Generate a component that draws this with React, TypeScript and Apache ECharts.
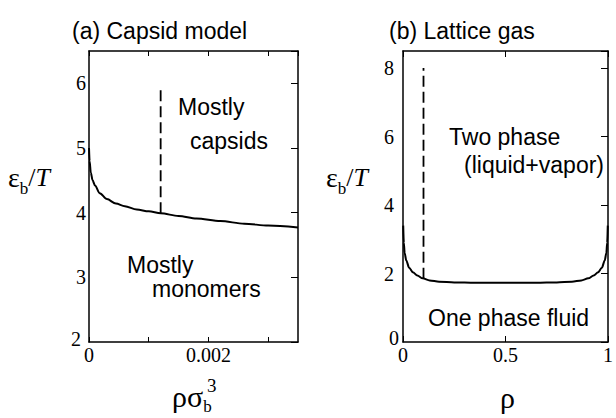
import React, { useEffect, useRef } from 'react';
import * as echarts from 'echarts';

// Panel (a) capsid model: boundary curve
const capsidRho = [0, 0.00001, 0.00003, 0.00006, 0.0001, 0.00018, 0.0003, 0.00045, 0.0006, 0.0008, 0.001, 0.0012, 0.0015, 0.0018, 0.0022, 0.0026, 0.003, 0.0035];
const capsidEps = [5.0, 4.8, 4.62, 4.5, 4.42, 4.3, 4.21, 4.14, 4.1, 4.05, 4.02, 3.99, 3.95, 3.91, 3.87, 3.83, 3.8, 3.77];
const capsidDashRho = [0.0012, 0.0012];
const capsidDashEps = [3.99, 5.95];

// Panel (b) lattice gas: coexistence curve
const latticeRho = [0.001, 0.004, 0.008, 0.016, 0.03, 0.048, 0.07, 0.096, 0.13, 0.176, 0.25, 0.35, 0.5, 0.65, 0.75, 0.824, 0.87, 0.904, 0.93, 0.952, 0.97, 0.984, 0.992, 0.996, 0.999];
const latticeEps = [3.4, 2.9, 2.6, 2.38, 2.17, 2.04, 1.94, 1.86, 1.8, 1.76, 1.74, 1.73, 1.73, 1.73, 1.74, 1.76, 1.8, 1.86, 1.94, 2.04, 2.17, 2.38, 2.6, 2.9, 3.4];
const latticeDashRho = [0.1, 0.1];
const latticeDashEps = [1.85, 8.0];

// Tick labels
const capsidXTickLabels = [0, 0.002];
const capsidYTickLabels = [2, 3, 4, 5, 6];
const latticeXTickLabels = [0, 0.5, 1];
const latticeYTickLabels = [0, 2, 4, 6, 8];

const zip = (xs: number[], ys: number[]) => xs.map((x, i) => [x, ys[i]]);
const has = (list: number[], v: number) => list.some((t) => Math.abs(t - v) < 1e-9);

const SERIF = 'Liberation Serif';
const SANS = 'Liberation Sans';
const BLACK = '#000';

export default function App() {
  const ref = useRef<HTMLDivElement>(null);
  useEffect(() => {
    if (!ref.current) return;
    const chart = echarts.init(ref.current, undefined, { renderer: 'svg' });
    const axisLine = { show: true, onZero: false, lineStyle: { color: BLACK, width: 1.5 } };
    const labelStyle = { color: BLACK, fontFamily: SERIF, fontSize: 20 };
    const grids = [
      { left: 89, top: 51, width: 209, height: 291 },
      { left: 403, top: 51, width: 208, height: 291 },
    ];
    const option: any = {
      animation: false,
      grid: grids,
      xAxis: [
        {
          gridIndex: 0, type: 'value', position: 'bottom', min: 0, max: 0.0035, interval: 0.001,
          axisLine, splitLine: { show: false },
          axisTick: { show: true, inside: true, length: 5, lineStyle: { color: BLACK, width: 1 } },
          axisLabel: { ...labelStyle, margin: 3, showMaxLabel: false,
            formatter: (v: number) => (has(capsidXTickLabels, v) ? String(v) : '') },
        },
        {
          gridIndex: 0, type: 'value', position: 'top', min: 0, max: 0.0035, interval: 0.001,
          axisLine, splitLine: { show: false },
          axisTick: { show: true, inside: true, length: 5, lineStyle: { color: BLACK, width: 1 } },
          axisLabel: { show: false },
        },
        {
          gridIndex: 1, type: 'value', position: 'bottom', min: 0, max: 1, interval: 0.5,
          axisLine, splitLine: { show: false },
          axisTick: { show: true, inside: true, length: 6, lineStyle: { color: BLACK, width: 1 } },
          axisLabel: { ...labelStyle, margin: 3,
            formatter: (v: number) => (has(latticeXTickLabels, v) ? String(v) : '') },
        },
        {
          gridIndex: 1, type: 'value', position: 'top', min: 0, max: 1, interval: 0.5,
          axisLine, splitLine: { show: false },
          axisTick: { show: true, inside: true, length: 6, lineStyle: { color: BLACK, width: 1 } },
          axisLabel: { show: false },
        },
      ],
      yAxis: [
        {
          gridIndex: 0, type: 'value', position: 'left', min: 2, max: 6.5, interval: 1,
          axisLine, splitLine: { show: false }, axisTick: { show: false },
          axisLabel: { ...labelStyle, margin: 3, showMaxLabel: false,
            formatter: (v: number) => {
              if (!has(capsidYTickLabels, v)) return '';
              return v === capsidYTickLabels[0] ? `{low|${v}}` : `{n|${v}}`;
            },
            rich: {
              n: { fontFamily: SERIF, fontSize: 20, color: BLACK },
              low: { fontFamily: SERIF, fontSize: 20, color: BLACK, padding: [0, 5, 6, 0] },
            },
          },
        },
        {
          gridIndex: 0, type: 'value', position: 'right', min: 2, max: 6.5, interval: 1,
          axisLine, splitLine: { show: false },
          axisTick: { show: true, inside: true, length: 7, lineStyle: { color: BLACK, width: 1 } },
          axisLabel: { show: false },
        },
        {
          gridIndex: 1, type: 'value', position: 'left', min: 0, max: 8.5, interval: 2,
          axisLine, splitLine: { show: false }, axisTick: { show: false },
          axisLabel: { ...labelStyle, margin: 4, showMaxLabel: false,
            formatter: (v: number) => {
              if (!has(latticeYTickLabels, v)) return '';
              return v === latticeYTickLabels[0] ? `{low|${v}}` : `{n|${v}}`;
            },
            rich: {
              n: { fontFamily: SERIF, fontSize: 20, color: BLACK, padding: [0, 5, 0, 0] },
              low: { fontFamily: SERIF, fontSize: 20, color: BLACK, padding: [0, 0, 8, 0] },
            },
          },
        },
        {
          gridIndex: 1, type: 'value', position: 'right', min: 0, max: 8.5, interval: 2,
          axisLine, splitLine: { show: false },
          axisTick: { show: true, inside: true, length: 7, lineStyle: { color: BLACK, width: 1 } },
          axisLabel: { show: false },
        },
      ],
      series: [
        {
          type: 'line', xAxisIndex: 0, yAxisIndex: 0, data: zip(capsidRho, capsidEps),
          showSymbol: false, symbol: 'none', smooth: 0.3, smoothMonotone: 'x',
          lineStyle: { color: BLACK, width: 2 },
        },
        {
          type: 'line', xAxisIndex: 0, yAxisIndex: 0, data: zip(capsidDashRho, capsidDashEps),
          showSymbol: false, symbol: 'none',
          lineStyle: { color: BLACK, width: 1.8, type: [11, 5] },
        },
        {
          type: 'line', xAxisIndex: 2, yAxisIndex: 2, data: zip(latticeRho, latticeEps),
          showSymbol: false, symbol: 'none', smooth: 0.3, smoothMonotone: 'x',
          lineStyle: { color: BLACK, width: 2 },
        },
        {
          type: 'line', xAxisIndex: 2, yAxisIndex: 2, data: zip(latticeDashRho, latticeDashEps),
          showSymbol: false, symbol: 'none',
          lineStyle: { color: BLACK, width: 1.8, type: [11, 5] },
        },
      ],
      graphic: [
        { type: 'text', x: 72, y: 31, style: { text: '(a) Capsid model', fontFamily: SANS, fontSize: 23, fill: BLACK, align: 'left', verticalAlign: 'middle' } },
        { type: 'text', x: 389, y: 31, style: { text: '(b) Lattice gas', fontFamily: SANS, fontSize: 23, fill: BLACK, align: 'left', verticalAlign: 'middle' } },
        { type: 'text', x: 178, y: 107, style: { text: 'Mostly', fontFamily: SANS, fontSize: 23, fill: BLACK, align: 'left', verticalAlign: 'middle' } },
        { type: 'text', x: 190, y: 141, style: { text: 'capsids', fontFamily: SANS, fontSize: 23, fill: BLACK, align: 'left', verticalAlign: 'middle' } },
        { type: 'text', x: 127, y: 265, style: { text: 'Mostly', fontFamily: SANS, fontSize: 23, fill: BLACK, align: 'left', verticalAlign: 'middle' } },
        { type: 'text', x: 152, y: 289, style: { text: 'monomers', fontFamily: SANS, fontSize: 23, fill: BLACK, align: 'left', verticalAlign: 'middle' } },
        { type: 'text', x: 449, y: 137, style: { text: 'Two phase', fontFamily: SANS, fontSize: 23, fill: BLACK, align: 'left', verticalAlign: 'middle' } },
        { type: 'text', x: 464, y: 165, style: { text: '(liquid+vapor)', fontFamily: SANS, fontSize: 23, fill: BLACK, align: 'left', verticalAlign: 'middle' } },
        { type: 'text', x: 428, y: 318, style: { text: 'One phase fluid', fontFamily: SANS, fontSize: 23, fill: BLACK, align: 'left', verticalAlign: 'middle' } },
        // y-axis titles
        ...[8, 326].map((x) => ({
          type: 'text', x, y: 177,
          style: {
            text: '{e|ε}{s|b}{n|/}{i|T}', fill: BLACK, align: 'left', verticalAlign: 'middle',
            rich: {
              e: { fontFamily: SERIF, fontSize: 28, lineHeight: 36, color: BLACK },
              s: { fontFamily: SERIF, fontSize: 17, lineHeight: 36, color: BLACK, padding: [22, 0, 0, 0] },
              n: { fontFamily: SERIF, fontSize: 26, lineHeight: 36, color: BLACK },
              i: { fontFamily: SERIF, fontSize: 26, fontStyle: 'italic', lineHeight: 36, color: BLACK },
            },
          },
        })),
        // x-axis titles
        {
          type: 'text', x: 172, y: 396,
          style: {
            text: '{m|ρσ}{s|b}', fill: BLACK, align: 'left', verticalAlign: 'middle',
            rich: {
              m: { fontFamily: SERIF, fontSize: 30, lineHeight: 32, color: BLACK },
              s: { fontFamily: SERIF, fontSize: 17, lineHeight: 32, color: BLACK, padding: [20, 0, 0, 0] },
            },
          },
        },
        { type: 'text', x: 207, y: 385, style: { text: '3', fontFamily: SERIF, fontSize: 19, fill: BLACK, align: 'left', verticalAlign: 'middle' } },
        { type: 'text', x: 500, y: 397, style: { text: 'ρ', fontFamily: SERIF, fontSize: 30, fill: BLACK, align: 'left', verticalAlign: 'middle' } },
      ],
    };
    chart.setOption(option);
    return () => chart.dispose();
  }, []);
  return <div ref={ref} style={{ position: 'fixed', left: 0, top: 0, width: 616, height: 418, background: '#fff' }} />;
}
